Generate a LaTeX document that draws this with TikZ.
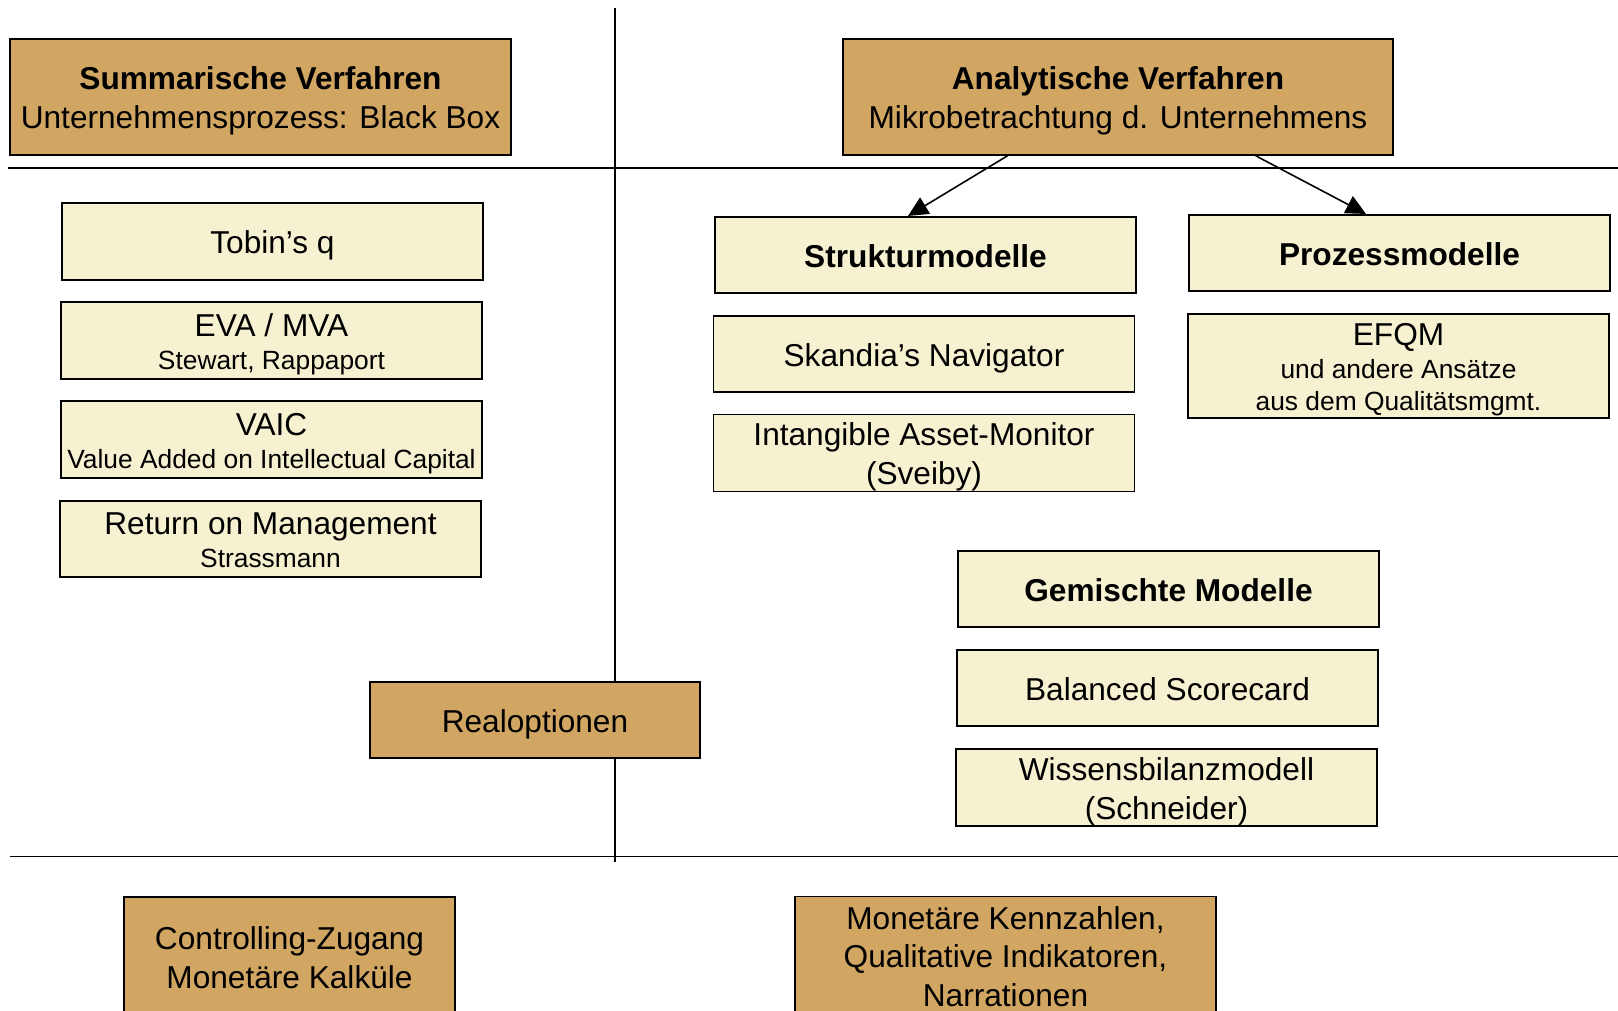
\documentclass[tikz,border=0pt]{standalone}
\usepackage{fontspec}
\setmainfont{Liberation Sans}
\usetikzlibrary{arrows.meta}
\definecolor{ochre}{RGB}{209,165,98}
\definecolor{cream}{RGB}{246,241,209}
\newcommand{\subline}[1]{{\fontsize{15}{18}\selectfont #1}}
\newcommand{\topfix}{\rule{0pt}{18pt}}
\newcommand{\botfix}{\rule[-4pt]{0pt}{4pt}}
\tikzset{
  catbox/.style={draw=black, line width=0.9pt, fill=ochre, inner sep=0pt, align=center, font=\fontsize{18}{22}\selectfont},
  itembox/.style={draw=black, line width=0.9pt, fill=cream, inner sep=0pt, minimum width=8.420cm, minimum height=1.530cm, align=center, font=\fontsize{18}{22}\selectfont},
  divider/.style={line width=1.1pt, draw=black},
  linkarrow/.style={line width=0.9pt, draw=black, -{Triangle[length=0.40cm, width=0.38cm]}},
}
\begin{document}
\begin{tikzpicture}
\useasboundingbox (0,0) rectangle (32.360,20.200);
\clip (0,0) rectangle (32.360,20.200);
\draw[divider] (12.300,20.040) -- (12.300,2.960);
\draw[divider] (0.160,16.840) -- (32.360,16.840);
\draw[divider] (0.200,3.070) -- (32.360,3.070);
\node[catbox, minimum width=10.010cm, minimum height=2.312cm] (summ) at (5.210,18.260) {\topfix\textbf{Summarische Verfahren}\\Unternehmensprozess: Black Box\botfix};
\node[catbox, minimum width=11.000cm, minimum height=2.320cm] (ana) at (22.360,18.260) {\topfix\textbf{Analytische Verfahren}\\Mikrobetrachtung d. Unternehmens\botfix};
\node[itembox] (tobin) at (5.450,15.370) {\topfix Tobin’s q\botfix};
\node[itembox] (eva) at (5.430,13.390) {\topfix EVA / MVA\\[-3pt]\subline{Stewart, Rappaport}\botfix};
\node[itembox] (vaic) at (5.430,11.410) {\topfix VAIC\\[-3pt]\subline{Value Added on Intellectual Capital}\botfix};
\node[itembox] (rom) at (5.410,9.420) {\topfix Return on Management\\[-3pt]\subline{Strassmann}\botfix};
\node[catbox, minimum width=6.600cm, minimum height=1.520cm] (realopt) at (10.700,5.800) {\topfix Realoptionen\botfix};
\node[itembox] (struk) at (18.510,15.100) {\topfix\textbf{Strukturmodelle}\botfix};
\node[itembox] (skandia) at (18.480,13.120) {\topfix Skandia’s Navigator\botfix};
\node[itembox] (iam) at (18.480,11.140) {\topfix Intangible Asset-Monitor\\(Sveiby)\botfix};
\node[itembox] (proz) at (27.990,15.140) {\topfix\textbf{Prozessmodelle}\botfix};
\node[itembox, minimum height=2.080cm] (efqm) at (27.970,12.880) {\topfix EFQM\\[-3.2pt]\subline{und andere Ansätze}\\[-4pt]\subline{aus dem Qualitätsmgmt.}\botfix};
\node[itembox] (gemischt) at (23.370,8.420) {\topfix\textbf{Gemischte Modelle}\botfix};
\node[itembox] (bsc) at (23.350,6.440) {\topfix Balanced Scorecard\botfix};
\node[itembox] (wissen) at (23.330,4.450) {\topfix Wissensbilanzmodell\\(Schneider)\botfix};
\node[catbox, minimum width=6.620cm, minimum height=2.400cm] (controlling) at (5.790,1.060) {\topfix Controlling-Zugang\\Monetäre Kalküle\botfix};
\node[catbox, minimum width=8.420cm, minimum height=2.360cm] (monetaer) at (20.110,1.090) {\topfix Monetäre Kennzahlen,\\Qualitative Indikatoren,\\Narrationen\botfix};
\draw[linkarrow] ([xshift=-2.210cm]ana.south) -- ([xshift=-0.350cm]struk.north);
\draw[linkarrow] ([xshift=2.754cm]ana.south) -- ([xshift=-0.670cm]proz.north);
\end{tikzpicture}
\end{document}
